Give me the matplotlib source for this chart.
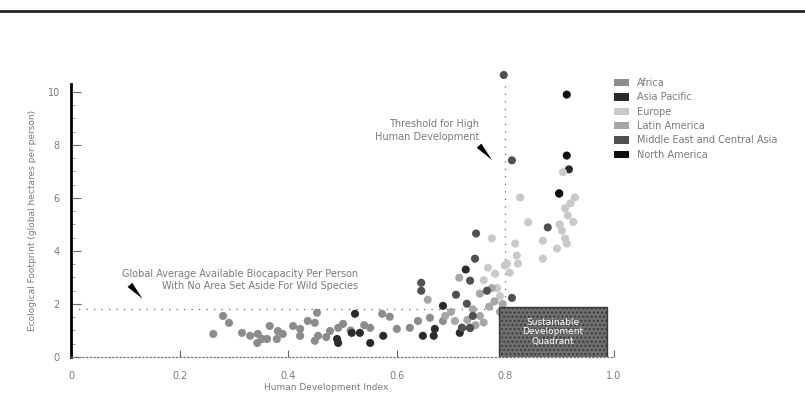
#!/usr/bin/env python3

import sys

import matplotlib

matplotlib.use("Agg")
import matplotlib.pyplot as plt
from matplotlib.patches import Patch, Rectangle


## data (HDI, footprint in global hectares per person)
africa_hdi = [0.280, 0.291, 0.262, 0.315, 0.330, 0.344, 0.352, 0.343, 0.361, 0.366, 0.381, 0.390, 0.379,
              0.409, 0.422, 0.422, 0.436, 0.449, 0.453, 0.455, 0.449, 0.477, 0.492, 0.501, 0.551, 0.573,
              0.587, 0.600, 0.624, 0.639, 0.661, 0.685, 0.470, 0.515, 0.540]
africa_fp = [1.55, 1.29, 0.87, 0.91, 0.80, 0.87, 0.68, 0.53, 0.68, 1.17, 0.98, 0.87, 0.68,
             1.17, 1.06, 0.80, 1.36, 1.29, 1.67, 0.80, 0.61, 0.98, 1.10, 1.25, 1.10, 1.63,
             1.52, 1.06, 1.10, 1.36, 1.48, 1.36, 0.75, 1.00, 1.20]

asia_hdi = [0.490, 0.492, 0.523, 0.517, 0.532, 0.551, 0.575, 0.648, 0.670, 0.668, 0.716, 0.685,
            0.727, 0.720, 0.735, 0.917, 0.899]
asia_fp = [0.68, 0.53, 1.63, 0.91, 0.91, 0.53, 0.80, 0.80, 1.06, 0.80, 0.91, 1.93,
           3.30, 1.10, 1.10, 7.08, 6.17]

europe_hdi = [0.906, 0.928, 0.910, 0.915, 0.904, 0.910, 0.913, 0.895, 0.827, 0.842, 0.869, 0.818,
              0.821, 0.823, 0.869, 0.799, 0.808, 0.775, 0.803, 0.768, 0.781, 0.785, 0.790, 0.760,
              0.920, 0.925, 0.900]
europe_fp = [6.97, 6.02, 5.61, 5.34, 4.77, 4.47, 4.28, 4.09, 6.02, 5.08, 4.39, 4.28,
             3.83, 3.52, 3.71, 3.45, 3.18, 4.47, 3.52, 3.37, 3.14, 2.60, 2.30, 2.90,
             5.80, 5.10, 5.00]

latin_hdi = [0.657, 0.689, 0.707, 0.753, 0.753, 0.715, 0.770, 0.780, 0.740, 0.790, 0.760, 0.700,
             0.745, 0.775, 0.730, 0.795]
latin_fp = [2.16, 1.55, 1.36, 2.39, 1.55, 2.99, 1.90, 2.10, 1.80, 1.70, 1.30, 1.70,
            1.20, 2.60, 1.40, 2.00]

mideast_hdi = [0.797, 0.812, 0.878, 0.746, 0.744, 0.735, 0.709, 0.766, 0.812, 0.729, 0.740, 0.645,
               0.720, 0.735, 0.645]
mideast_fp = [10.64, 7.42, 4.89, 4.66, 3.71, 2.88, 2.35, 2.50, 2.23, 2.01, 1.55, 2.80,
              1.10, 1.10, 2.50]

namerica_hdi = [0.913, 0.913, 0.899]
namerica_fp = [9.90, 7.60, 6.17]

region_names = ["Africa", "Asia Pacific", "Europe", "Latin America",
                "Middle East and Central Asia", "North America"]

hdi_ticks = [0, 0.2, 0.4, 0.6, 0.8, 1.0]
hdi_tick_labels = ["0", "0.2", "0.4", "0.6", "0.8", "1.0"]
fp_ticks = [0, 2, 4, 6, 8, 10]

high_hdi_threshold = 0.8
biocapacity = 1.8

TEXT_GRAY = "#7a7a7a"


# =======================================================================


def draw_points(ax):
    series = [
        (africa_hdi, africa_fp, "#8c8c8c"),
        (asia_hdi, asia_fp, "#2a2a2a"),
        (europe_hdi, europe_fp, "#c9c9c9"),
        (latin_hdi, latin_fp, "#a6a6a6"),
        (mideast_hdi, mideast_fp, "#505050"),
        (namerica_hdi, namerica_fp, "#0d0d0d"),
    ]
    for xs, ys, col in series:
        ax.scatter(xs, ys, s=34, color=col, edgecolors="none", zorder=3, clip_on=False)
    return [s[2] for s in series]


def draw_guides(ax):
    ## threshold lines
    ax.plot([0, high_hdi_threshold], [biocapacity, biocapacity], linestyle=(0, (1, 5)),
            color="#666666", lw=0.9, zorder=2)
    ax.plot([high_hdi_threshold, high_hdi_threshold], [0, 10.3], linestyle=(0, (1, 5)),
            color="#666666", lw=0.9, zorder=2, clip_on=False)

    ## sustainable development quadrant
    box = Rectangle((0.788, 0), 0.2, 1.9, facecolor="#6f6f6f", edgecolor="#3a3a3a",
                    lw=1.0, hatch="....", zorder=4)
    ax.add_patch(box)
    ax.text(0.888, 0.95, "Sustainable\nDevelopment\nQuadrant", color="white", fontsize=6.5,
            ha="center", va="center", linespacing=1.1, zorder=5)

    ax.text(0.528, 2.9, "Global Average Available Biocapacity Per Person\n"
            "With No Area Set Aside For Wild Species", color=TEXT_GRAY, fontsize=7,
            ha="right", va="center", linespacing=1.3)
    ax.annotate("", xy=(0.135, 2.12), xytext=(0.105, 2.8),
                arrowprops=dict(arrowstyle="wedge,tail_width=0.45", color="black", lw=0))

    ax.text(0.752, 8.55, "Threshold for High\nHuman Development", color=TEXT_GRAY, fontsize=7,
            ha="right", va="center", linespacing=1.3)
    ax.annotate("", xy=(0.779, 7.35), xytext=(0.748, 8.05),
                arrowprops=dict(arrowstyle="wedge,tail_width=0.45", color="black", lw=0))


def main():
    fig = plt.figure(figsize=(8.05, 3.95), dpi=100)
    fig.patch.set_facecolor("white")

    ax = fig.add_axes([71 / 805, 1 - 357 / 395, 543 / 805, 273 / 395])
    colors = draw_points(ax)
    draw_guides(ax)

    ax.set_xlim(0, 1.0)
    ax.set_ylim(0, 10.3)
    ax.set_xticks(hdi_ticks)
    ax.set_xticklabels(hdi_tick_labels)
    ax.set_yticks(fp_ticks)
    ax.set_yticks([v * 0.5 for v in range(21)], minor=True)
    ax.tick_params(axis="both", which="major", direction="in", labelsize=7, labelcolor=TEXT_GRAY,
                   color="#666666", length=7, width=0.8)
    ax.tick_params(axis="y", which="minor", direction="in", length=3, color="#888888", width=0.6)
    ax.tick_params(axis="x", which="major", pad=10, length=5)
    ax.tick_params(axis="y", which="major", pad=8)

    for side in ["top", "right"]:
        ax.spines[side].set_visible(False)
    ax.spines["left"].set_linewidth(2.0)
    ax.spines["left"].set_color("black")
    ax.spines["bottom"].set_linestyle((0, (1, 2)))
    ax.spines["bottom"].set_color("#777777")
    ax.spines["bottom"].set_linewidth(0.9)

    ax.set_xlabel("Human Development Index", fontsize=6.5, color=TEXT_GRAY, labelpad=4)
    ax.xaxis.set_label_coords(0.47, -0.095)
    ax.set_ylabel("Ecological Footprint (global hectares per person)", fontsize=6.5,
                  color=TEXT_GRAY, labelpad=8)

    handles = [Patch(facecolor=c, edgecolor="none") for c in colors]
    fig.legend(handles, region_names, loc="upper left", bbox_to_anchor=(610 / 805, 1 - 74 / 395),
               frameon=False, fontsize=7, labelcolor=TEXT_GRAY, handlelength=1.6, handleheight=0.8,
               handletextpad=0.8, labelspacing=0.45, borderaxespad=0)

    ## scanned page border at the top
    fig.add_artist(plt.Line2D([0, 1], [1 - 11 / 395, 1 - 11 / 395], color="#222222", lw=2.0))

    fig.savefig("out.png", dpi=100)
    return 0


if __name__ == "__main__":
    code = main()
    sys.exit(code)
